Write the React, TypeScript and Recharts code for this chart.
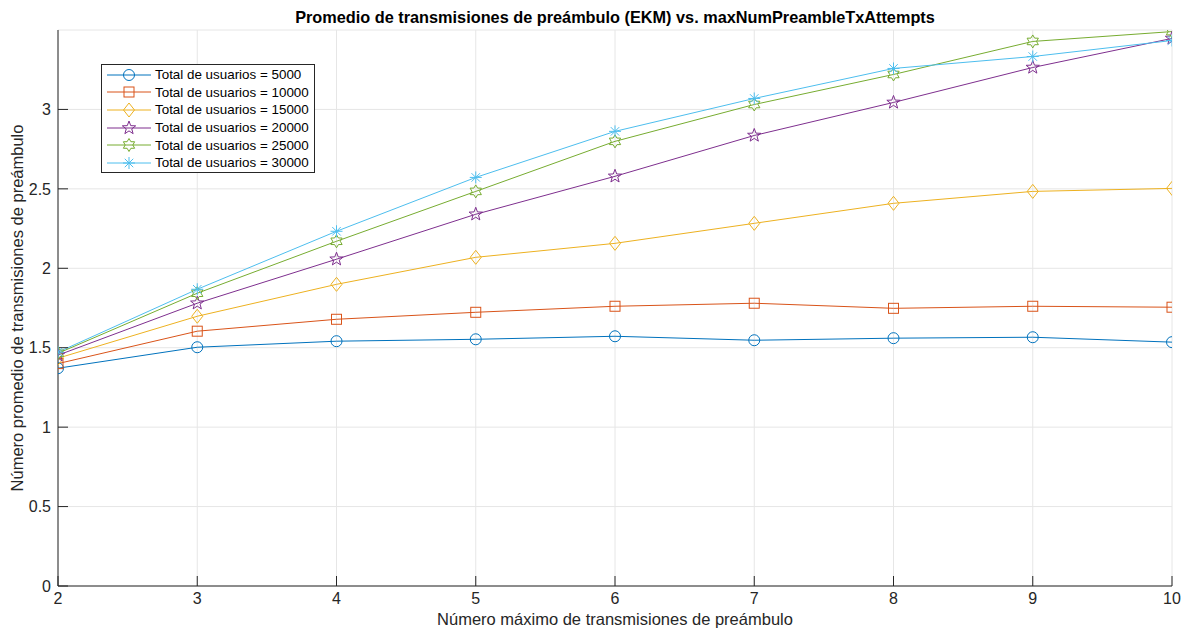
import React from 'react';
import { LineChart, Line, XAxis, YAxis, CartesianGrid } from 'recharts';

const xValues = [2, 3, 4, 5, 6, 7, 8, 9, 10];
const users5000 = [1.371, 1.503, 1.541, 1.553, 1.572, 1.547, 1.560, 1.566, 1.535];
const users10000 = [1.400, 1.604, 1.679, 1.723, 1.761, 1.780, 1.748, 1.761, 1.755];
const users15000 = [1.434, 1.698, 1.899, 2.069, 2.157, 2.283, 2.409, 2.484, 2.503];
const users20000 = [1.453, 1.780, 2.057, 2.340, 2.579, 2.836, 3.044, 3.264, 3.447];
const users25000 = [1.465, 1.843, 2.170, 2.484, 2.799, 3.031, 3.220, 3.428, 3.490];
const users30000 = [1.472, 1.868, 2.233, 2.572, 2.862, 3.069, 3.258, 3.333, 3.434];
const xTicks = [2, 3, 4, 5, 6, 7, 8, 9, 10];
const yTicks = [0, 0.5, 1, 1.5, 2, 2.5, 3];

const seriesDefs = [
  { key: 's5000', name: 'Total de usuarios = 5000', values: users5000, color: '#0072BD', shape: 'circle' },
  { key: 's10000', name: 'Total de usuarios = 10000', values: users10000, color: '#D95319', shape: 'square' },
  { key: 's15000', name: 'Total de usuarios = 15000', values: users15000, color: '#EDB120', shape: 'diamond' },
  { key: 's20000', name: 'Total de usuarios = 20000', values: users20000, color: '#7E2F8E', shape: 'pentagram' },
  { key: 's25000', name: 'Total de usuarios = 25000', values: users25000, color: '#77AC30', shape: 'hexagram' },
  { key: 's30000', name: 'Total de usuarios = 30000', values: users30000, color: '#4DBEEE', shape: 'asterisk' },
];

const data = xValues.map((x, i) => {
  const row: any = { x };
  seriesDefs.forEach((s) => { row[s.key] = s.values[i]; });
  return row;
});

function starPoints(cx: number, cy: number, n: number, R: number, r: number) {
  const pts: string[] = [];
  for (let i = 0; i < n * 2; i++) {
    const rad = i % 2 === 0 ? R : r;
    const a = -Math.PI / 2 + (i * Math.PI) / n;
    pts.push(`${cx + rad * Math.cos(a)},${cy + rad * Math.sin(a)}`);
  }
  return pts.join(' ');
}

function Marker({ shape, cx, cy, color }: { shape: string; cx: number; cy: number; color: string }) {
  if (cx == null || cy == null || isNaN(cx) || isNaN(cy)) return null;
  const common = { fill: 'none', stroke: color, strokeWidth: 1 };
  switch (shape) {
    case 'circle':
      return <circle cx={cx} cy={cy} r={5.5} {...common} />;
    case 'square':
      return <rect x={cx - 5} y={cy - 5} width={10} height={10} {...common} />;
    case 'diamond':
      return <polygon points={`${cx},${cy - 7} ${cx + 5.5},${cy} ${cx},${cy + 7} ${cx - 5.5},${cy}`} {...common} />;
    case 'pentagram':
      return <polygon points={starPoints(cx, cy, 5, 7, 2.9)} {...common} />;
    case 'hexagram':
      return <polygon points={starPoints(cx, cy, 6, 6.5, 3.8)} {...common} />;
    case 'asterisk': {
      const r = 6;
      const d = r * 0.7071;
      return (
        <g stroke={color} strokeWidth={1}>
          <line x1={cx} y1={cy - r} x2={cx} y2={cy + r} />
          <line x1={cx - r} y1={cy} x2={cx + r} y2={cy} />
          <line x1={cx - d} y1={cy - d} x2={cx + d} y2={cy + d} />
          <line x1={cx - d} y1={cy + d} x2={cx + d} y2={cy - d} />
        </g>
      );
    }
    default:
      return null;
  }
}

const FONT = '"Liberation Sans", Arial, Helvetica, sans-serif';
const TEXT = '#262626';

function LegendBox() {
  return (
    <div
      style={{
        position: 'absolute',
        left: 101,
        top: 64,
        width: 214,
        height: 109,
        boxSizing: 'border-box',
        border: '1px solid #262626',
        background: '#fff',
        paddingTop: 1,
        fontFamily: FONT,
        fontSize: 13.4,
        color: '#000',
      }}
    >
      {seriesDefs.map((s) => (
        <div key={s.key} style={{ display: 'flex', alignItems: 'center', height: 17.6 }}>
          <svg width={52} height={16} style={{ display: 'block', flex: 'none' }}>
            <line x1={5} y1={8} x2={49} y2={8} stroke={s.color} strokeWidth={1} />
            <Marker shape={s.shape} cx={27} cy={8} color={s.color} />
          </svg>
          <span style={{ whiteSpace: 'nowrap', marginLeft: 1 }}>{s.name}</span>
        </div>
      ))}
    </div>
  );
}

export default function App() {
  return (
    <div style={{ position: 'absolute', left: 0, top: 0, width: 1189, height: 631, background: '#fff', overflow: 'hidden' }}>
      <div
        style={{
          position: 'absolute',
          left: 0,
          width: 1230,
          top: 8,
          textAlign: 'center',
          fontFamily: FONT,
          fontWeight: 'bold',
          fontSize: 16.3,
          color: '#000',
          whiteSpace: 'nowrap',
        }}
      >
        Promedio de transmisiones de preámbulo (EKM) vs. maxNumPreambleTxAttempts
      </div>
      <LineChart
        width={1189}
        height={631}
        data={data}
        margin={{ top: 30, right: 17, bottom: 20, left: 28 }}
        style={{ position: 'absolute', left: 0, top: 0 }}
      >
        <CartesianGrid stroke="#e6e6e6" strokeWidth={1} vertical horizontal />
        <XAxis
          dataKey="x"
          type="number"
          domain={[2, 10]}
          ticks={xTicks}
          allowDataOverflow
          height={25}
          stroke="#262626"
          tickSize={-10}
          tickMargin={17}
          tick={{ fill: TEXT, fontSize: 16, fontFamily: FONT }}
          interval={0}
          label={{ value: 'Número máximo de transmisiones de preámbulo', position: 'bottom', offset: 2, fill: TEXT, fontSize: 16.5, fontFamily: FONT }}
        />
        <YAxis
          type="number"
          domain={[0, 3.5]}
          ticks={yTicks}
          allowDataOverflow
          width={30}
          stroke="#262626"
          tickSize={-10}
          tickMargin={17}
          tick={{ fill: TEXT, fontSize: 16, fontFamily: FONT }}
          interval={0}
          label={{
            value: 'Número promedio de transmisiones de preámbulo',
            angle: -90,
            position: 'left',
            offset: 11,
            fill: TEXT,
            fontSize: 16.5,
            fontFamily: FONT,
            style: { textAnchor: 'middle' },
          }}
        />
        {seriesDefs.map((s) => (
          <Line
            key={s.key}
            type="linear"
            dataKey={s.key}
            name={s.name}
            stroke={s.color}
            strokeWidth={1}
            isAnimationActive={false}
            dot={(p: any) => <Marker key={`${s.key}-${p.index}`} shape={s.shape} cx={p.cx} cy={p.cy} color={s.color} />}
            activeDot={false}
          />
        ))}
      </LineChart>
      <LegendBox />
    </div>
  );
}
